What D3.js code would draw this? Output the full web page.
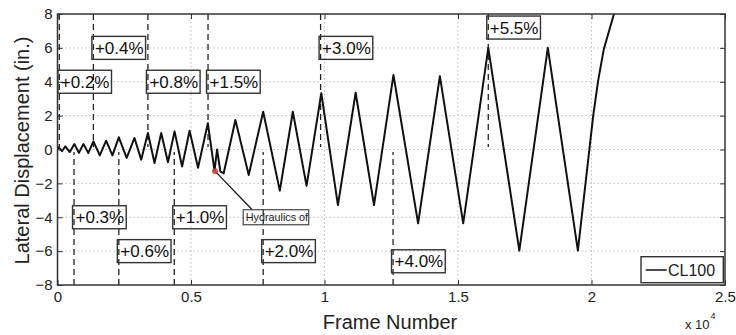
<!DOCTYPE html>
<html>
<head>
<meta charset="utf-8">
<script src="https://cdn.jsdelivr.net/npm/d3@7/dist/d3.min.js"></script>
<style>
  html, body { margin: 0; padding: 0; background: #fff; }
  svg { display: block; font-family: "Liberation Sans", Arial, Helvetica, sans-serif; }
</style>
</head>
<body>
<svg id="chart" width="736" height="335"></svg>
<script>
// ---------------- data ----------------
const frames = [0, 45, 169, 293, 462, 631, 800, 968, 1156, 1344, 1584, 1821, 2057, 2297, 2590, 2883,
  3134, 3386, 3634, 3885, 4137, 4384, 4666, 4947, 5263, 5631, 5880, 5976, 6100, 6224, 6663, 7162,
  7703, 8326, 8814, 9328, 9880, 10503, 11167, 11854, 12583, 13506, 14321, 15195, 16134, 17297,
  18364, 19490, 20064, 20252, 20458, 20841, 21115];
const disp = [0.05, 0.13, -0.1, 0.19, -0.15, 0.32, -0.2, 0.32, -0.2, 0.48, -0.35, 0.52, -0.35, 0.72, -0.5, 0.68,
  -0.6, 0.97, -0.8, 0.97, -0.75, 1.07, -1.0, 1.11, -1.08, 1.55, -1.25, 0.0, -1.3, -1.4, 1.74, -1.5,
  2.23, -2.43, 2.23, -2.15, 3.32, -3.28, 3.35, -3.28, 4.4, -4.36, 4.33, -4.36, 6.0, -5.97,
  6.0, -5.97, 2.0, 4.1, 5.9, 8.0, 8.8];

const upperFrames = [68, 1344, 3386, 5638, 9854, 16134];
const upperLabels = ["+0.2%", "+0.4%", "+0.8%", "+1.5%", "+3.0%", "+5.5%"];
const upperLabelY = [4, 6, 4, 4, 6, 7.2];

const lowerFrames = [619, 2297, 4373, 7703, 12568];
const lowerLabels = ["+0.3%", "+0.6%", "+1.0%", "+2.0%", "+4.0%"];
const lowerLabelY = [-4, -6, -4, -6, -6.6];

const eventFrame = [5900];
const eventDisp = [-1.28];
const eventLabel = ["Hydraulics off"];
const eventLabelFrame = [6955];
const eventLabelY = [-4.0];

const xTicks = [0, 5000, 10000, 15000, 20000, 25000];
const yTicks = [-8, -6, -4, -2, 0, 2, 4, 6, 8];
const seriesName = "CL100";

// ---------------- layout ----------------
const svg = d3.select("#chart");
const L = 57.5, R = 725, T = 14, B = 285;
const x = d3.scaleLinear().domain([0, 25000]).range([L, R]);
const y = d3.scaleLinear().domain([-8, 8]).range([B, T]);

svg.append("rect").attr("width", 736).attr("height", 335).attr("fill", "#fff");

svg.append("defs").append("clipPath").attr("id", "plotclip")
  .append("rect").attr("x", L).attr("y", T).attr("width", R - L).attr("height", B - T);

// grid
const grid = svg.append("g");
grid.selectAll(".gx").data(xTicks.slice(1, -1)).join("line")
  .attr("x1", d => x(d)).attr("x2", d => x(d)).attr("y1", T).attr("y2", B)
  .attr("stroke", "#bdbdbd").attr("stroke-width", 1).attr("stroke-dasharray", "1.5,2.5");
grid.selectAll(".gy").data(yTicks.slice(1, -1)).join("line")
  .attr("y1", d => y(d)).attr("y2", d => y(d)).attr("x1", L).attr("x2", R)
  .attr("stroke", "#bdbdbd").attr("stroke-width", 1).attr("stroke-dasharray", "1.5,2.5");

// dashed marker lines
const dash = svg.append("g").attr("clip-path", "url(#plotclip)");
dash.selectAll(".du").data(upperFrames).join("line")
  .attr("x1", d => x(d)).attr("x2", d => x(d)).attr("y1", y(8)).attr("y2", y(0.15))
  .attr("stroke", "#222").attr("stroke-width", 1.3).attr("stroke-dasharray", "6,4");
dash.selectAll(".dl").data(lowerFrames).join("line")
  .attr("x1", d => x(d)).attr("x2", d => x(d)).attr("y1", y(-8)).attr("y2", y(-0.15))
  .attr("stroke", "#222").attr("stroke-width", 1.3).attr("stroke-dasharray", "6,4");

// series line
const pts = frames.map((f, i) => [f, disp[i]]);
svg.append("path").datum(pts)
  .attr("clip-path", "url(#plotclip)")
  .attr("fill", "none").attr("stroke", "#111").attr("stroke-width", 2)
  .attr("stroke-linejoin", "round")
  .attr("d", d3.line().x(d => x(d[0])).y(d => y(d[1])));

// label boxes
function addLabel(f, yv, txt) {
  const g = svg.append("g");
  const t = g.append("text")
    .attr("x", x(f) + 1.5).attr("y", y(yv)).attr("dy", "0.36em")
    .attr("font-size", 17).attr("fill", "#111").text(txt);
  const bb = t.node().getBBox();
  g.insert("rect", "text")
    .attr("x", x(f) - 1.5).attr("y", y(yv) - 11.5)
    .attr("width", bb.width + 5).attr("height", 23)
    .attr("fill", "none").attr("stroke", "#333").attr("stroke-width", 1.4);
}
upperFrames.forEach((f, i) => addLabel(f, upperLabelY[i], upperLabels[i]));
lowerFrames.forEach((f, i) => addLabel(f, lowerLabelY[i], lowerLabels[i]));

// event annotation
eventFrame.forEach((f, i) => {
  const bx = x(eventLabelFrame[i]), by = y(eventLabelY[i]) - 7.5;
  svg.append("line")
    .attr("x1", x(f)).attr("y1", y(eventDisp[i]))
    .attr("x2", bx + 9).attr("y2", by)
    .attr("stroke", "#111").attr("stroke-width", 1.2);
  svg.append("defs").append("clipPath").attr("id", "evclip" + i)
    .append("rect").attr("x", bx).attr("y", by).attr("width", 65.5).attr("height", 15);
  svg.append("text")
    .attr("clip-path", "url(#evclip" + i + ")")
    .attr("x", bx + 2.5).attr("y", by + 11.2)
    .attr("font-size", 10.8).attr("fill", "#222").text(eventLabel[i]);
  svg.append("rect").attr("x", bx).attr("y", by).attr("width", 65.5).attr("height", 15)
    .attr("fill", "none").attr("stroke", "#444").attr("stroke-width", 1.2);
  svg.append("circle").attr("cx", x(f)).attr("cy", y(eventDisp[i])).attr("r", 2.6)
    .attr("fill", "#e04040").attr("stroke", "#c02020").attr("stroke-width", 0.8).attr("opacity", 0.85);
});

// axes
const fmtX = d => d3.format("")(d / 10000);
const ax = svg.append("g");
ax.append("g").attr("transform", `translate(0,${B})`)
  .call(d3.axisBottom(x).tickValues(xTicks).tickSizeInner(-5).tickSizeOuter(0).tickPadding(6).tickFormat(fmtX));
ax.append("g").attr("transform", `translate(0,${T})`)
  .call(d3.axisTop(x).tickValues(xTicks).tickSizeInner(-5).tickSizeOuter(0).tickFormat(""));
ax.append("g").attr("transform", `translate(${L},0)`)
  .call(d3.axisLeft(y).tickValues(yTicks).tickSizeInner(-5).tickSizeOuter(0).tickPadding(5));
ax.append("g").attr("transform", `translate(${R},0)`)
  .call(d3.axisRight(y).tickValues(yTicks).tickSizeInner(-5).tickSizeOuter(0).tickFormat(""));
ax.selectAll(".domain").remove();
ax.selectAll(".tick line").attr("stroke", "#333").attr("stroke-width", 1);
ax.selectAll(".tick text").attr("font-size", 15).attr("fill", "#222")
  .attr("font-family", "'Liberation Sans', Arial, sans-serif");

// frame box
svg.append("rect").attr("x", L).attr("y", T).attr("width", R - L).attr("height", B - T)
  .attr("fill", "none").attr("stroke", "#333").attr("stroke-width", 1.5);

// axis titles
svg.append("text").attr("x", 390).attr("y", 328.5).attr("text-anchor", "middle")
  .attr("font-size", 20).attr("fill", "#222").text("Frame Number");
svg.append("text").attr("transform", "translate(29,150.5) rotate(-90)").attr("text-anchor", "middle")
  .attr("font-size", 20).attr("fill", "#222").text("Lateral Displacement (in.)");
const ex = svg.append("text").attr("x", 685).attr("y", 328.5).attr("font-size", 13).attr("fill", "#222");
ex.append("tspan").text("x 10");
ex.append("tspan").attr("font-size", 9).attr("dy", -10).attr("dx", 1).text("4");

// legend
const lg = svg.append("g");
lg.append("rect").attr("x", 641).attr("y", 256.7).attr("width", 82.3).attr("height", 26)
  .attr("fill", "#fff").attr("stroke", "#333").attr("stroke-width", 1.4);
lg.append("line").attr("x1", 645.7).attr("x2", 666.7).attr("y1", 270).attr("y2", 270)
  .attr("stroke", "#111").attr("stroke-width", 1.5);
lg.append("text").attr("x", 668).attr("y", 270).attr("dy", "0.36em")
  .attr("font-size", 16).attr("fill", "#222").text(seriesName);
</script>
</body>
</html>
